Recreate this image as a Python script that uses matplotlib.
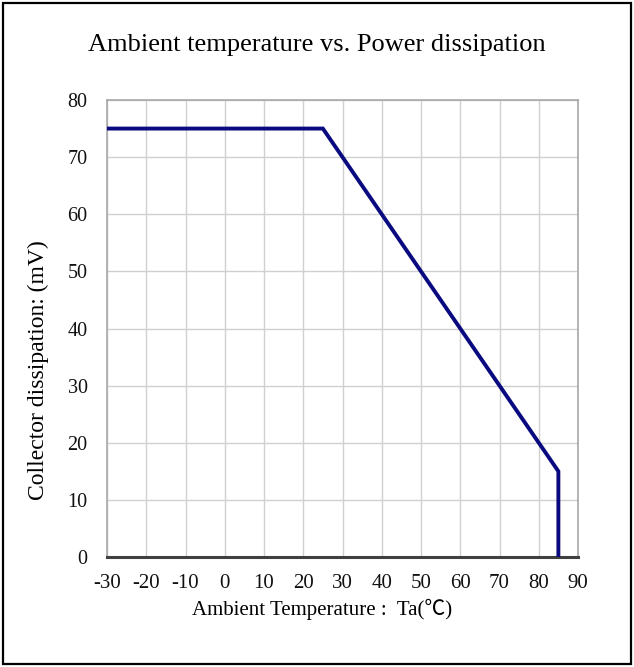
import matplotlib
matplotlib.use("Agg")
import matplotlib.pyplot as plt
from matplotlib.patches import Rectangle

# derating curve
temps = [-30, 25, 85, 85]
power = [75, 75, 15, 0]

x_ticks = [-30, -20, -10, 0, 10, 20, 30, 40, 50, 60, 70, 80, 90]
y_ticks = [0, 10, 20, 30, 40, 50, 60, 70, 80]

plt.rcParams["font.family"] = ["Liberation Serif", "Noto Sans CJK JP"]
plt.rcParams["axes.unicode_minus"] = False

fig = plt.figure(figsize=(6.34, 6.67), dpi=100)
ax = fig.add_axes([107 / 634, 1 - 557 / 667, 471 / 634, 457 / 667])

ax.plot(temps, power, color="#0a0a80", linewidth=2.8, solid_joinstyle="miter", zorder=3)

ax.set_xlim(-30, 90)
ax.set_ylim(0, 80)
ax.set_xticks(x_ticks)
ax.set_yticks(y_ticks)
ax.tick_params(length=0)
ax.tick_params(axis="x", labelsize=15, labelcolor="#111111", pad=12)
ax.tick_params(axis="y", labelsize=14.5, labelcolor="#111111", pad=14)

ax.grid(True, color="#d0d0d0", linewidth=1.0)
ax.set_axisbelow(True)
for side in ["left", "top", "right"]:
    ax.spines[side].set_color("#a8a8a8")
    ax.spines[side].set_linewidth(1.2)
ax.spines["bottom"].set_color("#404040")
ax.spines["bottom"].set_linewidth(2.2)

fig.text(0.5, 1 - 45 / 667, "Ambient temperature vs. Power dissipation",
         ha="center", va="center", fontsize=19)
fig.text(322 / 634, 1 - 609 / 667, "Ambient Temperature :  Ta(℃)",
         ha="center", va="center", fontsize=15)
fig.text(38 / 634, 1 - 370 / 667, "Collector dissipation: (mV)",
         ha="center", va="center", rotation=90, fontsize=17)

# outer frame
fig.patches.append(Rectangle((3 / 634, 3 / 667), 628 / 634, 661 / 667,
                             transform=fig.transFigure, fill=False,
                             edgecolor="black", linewidth=1.6))

fig.savefig("out.png", dpi=100)
